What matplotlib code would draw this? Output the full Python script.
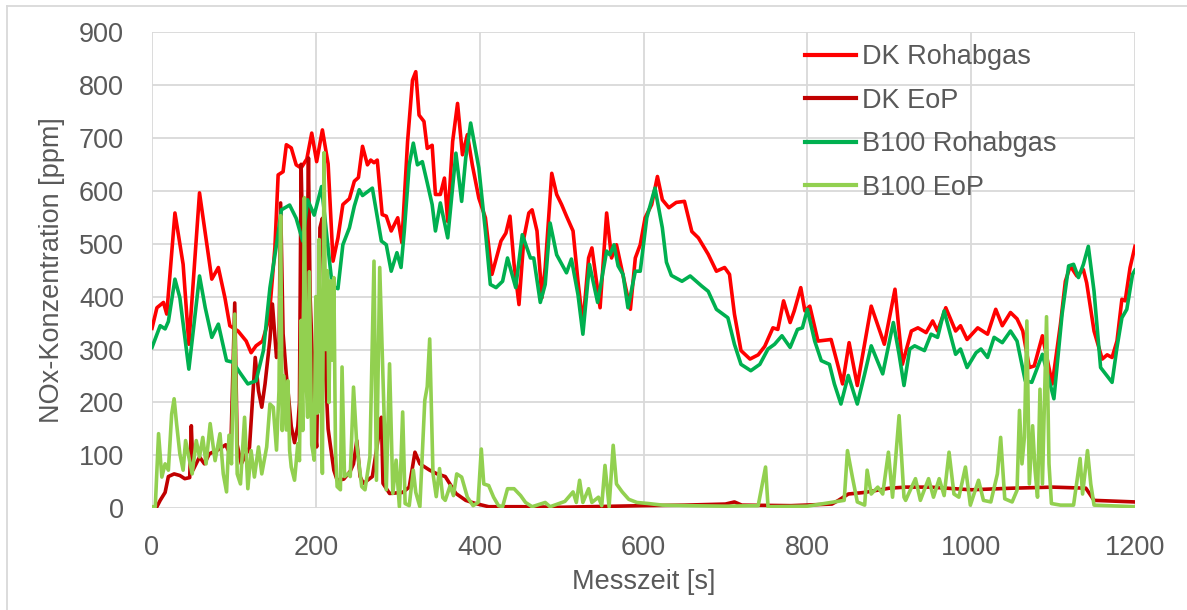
import matplotlib
matplotlib.use("Agg")
import matplotlib.pyplot as plt
from matplotlib.lines import Line2D

# ---------------- data ----------------
dk_roh_t = [0, 6, 14, 18, 28, 38, 45, 58, 73, 81, 89, 95, 105, 115, 121, 127, 135, 143, 150, 154, 160, 164,
            170, 176, 182, 189, 195, 201, 208, 215, 221, 227, 233, 241, 247, 252, 257, 263, 267, 271, 275, 281,
            286, 292, 300, 305, 312, 318, 322, 326, 332, 336, 342, 346, 352, 357, 361, 367, 373, 379, 385, 391,
            399, 407, 415, 426, 432, 437, 442, 448, 454, 460, 464, 470, 476, 480, 488, 494, 500, 506, 514, 520,
            526, 533, 537, 547, 555, 561, 567, 574, 584, 590, 596, 602, 610, 617, 623, 631, 640, 650, 659, 667,
            679, 689, 699, 705, 711, 719, 730, 740, 748, 758, 764, 771, 779, 784, 792, 797, 803, 813, 829, 837,
            843, 851, 861, 878, 894, 907, 916, 927, 935, 945, 953, 959, 969, 981, 987, 995, 1008, 1020, 1030,
            1038, 1048, 1056, 1063, 1071, 1077, 1087, 1099, 1109, 1115, 1121, 1129, 1137, 1141, 1150, 1160, 1166,
            1172, 1178, 1184, 1188, 1194, 1200]
dk_roh_v = [340, 379, 389, 367, 558, 461, 310, 596, 433, 455, 398, 345, 335, 316, 294, 307, 316, 360, 492, 630, 636, 687,
            681, 649, 643, 660, 709, 655, 715, 651, 467, 511, 574, 585, 618, 625, 684, 649, 658, 653, 658, 555,
            552, 524, 549, 502, 693, 809, 825, 743, 731, 680, 686, 593, 593, 624, 542, 693, 765, 668, 706, 649,
            586, 549, 442, 505, 520, 552, 461, 385, 511, 558, 564, 524, 398, 455, 633, 593, 574, 552, 524, 429,
            348, 473, 492, 379, 558, 473, 498, 448, 376, 473, 498, 549, 574, 627, 583, 568, 578, 580, 523, 511,
            480, 448, 455, 442, 367, 298, 282, 290, 306, 341, 338, 392, 351, 373, 417, 373, 382, 316, 319, 272,
            235, 313, 232, 382, 310, 414, 272, 335, 341, 332, 354, 335, 379, 335, 345, 319, 341, 329, 376,
            345, 370, 358, 335, 266, 269, 326, 235, 348, 429, 458, 439, 451, 426, 335, 282, 290,
            285, 316, 395, 392, 455, 495]

dk_eop_t = [0, 6, 10, 16, 20, 27, 34, 40, 46, 48, 50, 58, 64, 70, 80, 90, 96, 101, 104, 109, 119, 126, 130, 134,
            138, 144, 147, 152, 155, 157, 160, 164, 166, 170, 174, 178, 180, 182, 184, 186, 188, 191, 193, 196,
            199, 201, 203, 205, 208, 210, 212, 215, 218, 222, 226, 234, 242, 246, 250, 254, 258, 269, 277, 280,
            282, 290, 306, 314, 321, 327, 339, 348, 358, 371, 383, 395, 411, 450, 500, 600, 650, 700, 711, 720,
            780, 830, 838, 850, 870, 900, 920, 950, 1000, 1050, 1100, 1140, 1150, 1200]
dk_eop_v = [2, 3, 15, 30, 60, 65, 62, 56, 58, 156, 72, 97, 84, 103, 110, 120, 100, 388, 120, 84, 115, 285, 222, 191,
            235, 320, 386, 285, 300, 577, 330, 252, 222, 155, 124, 155, 200, 650, 500, 461, 300, 662, 400, 276,
            150, 116, 300, 530, 548, 400, 250, 150, 116, 72, 53, 55, 70, 84, 128, 60, 47, 60, 140, 172,
            47, 28, 30, 40, 106, 84, 72, 65, 60, 28, 15, 9, 3, 3, 2, 5, 6, 8, 12, 6,
            5, 8, 15, 27, 30, 38, 40, 40, 35, 38, 40, 38, 15, 12]

b100_roh_t = [0, 10, 16, 20, 28, 34, 45, 58, 65, 73, 81, 91, 99, 107, 117, 127, 136, 144, 152, 158, 168, 176, 184,
              190, 198, 207, 213, 220, 227, 233, 241, 247, 253, 257, 269, 280, 286, 292, 299, 304, 308, 314, 319,
              324, 330, 336, 342, 346, 352, 361, 371, 378, 383, 389, 399, 407, 413, 420, 428, 434, 444, 452, 462,
              466, 474, 480, 486, 494, 506, 512, 520, 526, 534, 544, 555, 559, 564, 569, 575, 581, 590, 596, 604,
              614, 623, 628, 634, 647, 657, 671, 679, 689, 703, 711, 719, 731, 742, 752, 760, 769, 779, 788, 794,
              800, 809, 817, 827, 833, 841, 850, 861, 870, 878, 892, 905, 912, 918, 925, 931, 943, 951, 959, 967,
              981, 987, 995, 1006, 1012, 1020, 1028, 1038, 1048, 1056, 1066, 1074, 1087, 1101, 1111, 1119, 1125,
              1131, 1137, 1143, 1150, 1158, 1164, 1172, 1178, 1184, 1190, 1197, 1200]
b100_roh_v = [304, 345, 339, 353, 433, 398, 263, 439, 379, 323, 348, 279, 276, 257, 235, 241, 298, 417, 498, 564, 573, 548, 505,
              583, 554, 608, 520, 420, 415, 498, 530, 571, 602, 591, 605, 505, 498, 448, 483, 455, 524, 649, 690,
              649, 655, 615, 574, 524, 577, 511, 671, 580, 662, 728, 643, 524, 423, 417, 429, 473, 417, 517, 473,
              473, 389, 423, 539, 479, 445, 471, 404, 329, 461, 389, 486, 479, 498, 458, 442, 379, 448, 448, 549,
              605, 530, 465, 440, 429, 439, 420, 410, 376, 360, 310, 272, 260, 272, 301, 310, 326, 304, 338, 341,
              376, 316, 279, 272, 235, 197, 251, 197, 254, 307, 254, 351, 291, 232, 301, 307, 298, 329, 323, 373,
              291, 301, 266, 294, 301, 285, 323, 313, 335, 316, 241, 238, 291, 207, 367, 458, 461,
              436, 461, 495, 410, 266, 254, 238, 304, 360, 376, 442, 450]

b100_eop_t = [0, 4, 8, 12, 16, 20, 24, 27, 30, 34, 38, 41, 45, 49, 54, 58, 62, 66, 71, 77, 83, 87, 91, 94, 97, 101,
              104, 108, 113, 117, 121, 125, 130, 134, 140, 144, 148, 152, 155, 157, 159, 161, 164, 166, 168, 170,
              174, 178, 180, 182, 184, 186, 188, 190, 192, 195, 198, 200, 202, 204, 206, 208, 210, 212, 214, 216,
              218, 220, 222, 224, 226, 230, 232, 235, 240, 242, 246, 250, 256, 260, 266, 271, 274, 278, 282, 286,
              290, 294, 298, 302, 306, 309, 314, 319, 322, 327, 333, 336, 339, 343, 347, 351, 355, 358, 364, 368,
              372, 378, 385, 392, 398, 402, 405, 411, 417, 423, 428, 434, 442, 450, 456, 464, 480, 486, 504, 514,
              518, 522, 526, 533, 537, 545, 549, 553, 558, 563, 567, 574, 582, 592, 606, 623, 650, 700, 740, 749,
              752, 800, 845, 849, 855, 861, 870, 873, 878, 886, 892, 899, 904, 912, 918, 920, 932, 938, 948, 954,
              961, 967, 973, 979, 985, 993, 999, 1009, 1015, 1024, 1032, 1036, 1041, 1050, 1056, 1059, 1062, 1065,
              1068, 1071, 1075, 1078, 1081, 1084, 1087, 1092, 1095, 1098, 1109, 1125, 1133, 1136, 1142, 1146,
              1150, 1200]
b100_eop_v = [3, 3, 141, 59, 84, 72, 178, 207, 160, 103, 72, 128, 97, 65, 128, 97, 134, 84, 160, 90, 141, 65, 31, 138, 84, 367,
              65, 46, 172, 37, 109, 59, 116, 65, 116, 197, 191, 110, 222, 553, 147, 250, 148, 241, 109, 78,
              53, 122, 90, 355, 147, 587, 250, 172, 447, 120, 91, 400, 180, 508, 250, 66, 672, 300, 449, 200,
              430, 280, 436, 109, 41, 35, 267, 60, 66, 60, 229, 120, 41, 35, 97, 467, 53, 455, 248, 35,
              273, 28, 91, 3, 182, 9, 5, 72, 30, 3, 204, 230, 320, 66, 22, 75, 20, 15, 43, 24,
              65, 59, 21, 5, 11, 112, 46, 43, 21, 5, 3, 37, 37, 24, 11, 3, 11, 3, 13, 31,
              11, 53, 11, 37, 11, 21, 5, 81, 3, 119, 46, 31, 17, 11, 9, 6, 5, 4, 5, 78,
              3, 4, 15, 109, 59, 12, 6, 72, 27, 40, 27, 106, 21, 175, 21, 15, 56, 15, 56, 21,
              56, 24, 106, 27, 21, 78, 6, 53, 15, 12, 65, 134, 18, 12, 34, 185, 84, 134,
              354, 46, 156, 72, 21, 225, 46, 362, 84, 9, 6, 6, 94, 27, 109, 46,
              6, 3]

labels = ["DK Rohabgas", "DK EoP", "B100 Rohabgas", "B100 EoP"]
colors = ["#FF0000", "#C00000", "#00B050", "#92D050"]
x_ticks = [0, 200, 400, 600, 800, 1000, 1200]
y_ticks = [0, 100, 200, 300, 400, 500, 600, 700, 800, 900]
x_label = "Messzeit [s]"
y_label = "NOx-Konzentration [ppm]"

# ---------------- plot ----------------
plt.rcParams['font.family'] = ['Liberation Sans', 'DejaVu Sans']
W, H = 1187, 610
fig = plt.figure(figsize=(W / 100, H / 100), dpi=100)
ax = fig.add_axes([152 / W, 1 - 508.3 / H, (1135 - 152) / W, (508.3 - 32) / H])

series = [(dk_roh_t, dk_roh_v), (dk_eop_t, dk_eop_v), (b100_roh_t, b100_roh_v), (b100_eop_t, b100_eop_v)]
for (t, v), lab, c in zip(series, labels, colors):
    ax.plot(t, v, color=c, lw=2.6, label=lab, solid_joinstyle='round', zorder=3)

ax.set_xlim(0, 1200)
ax.set_ylim(0, 900)
ax.set_xticks(x_ticks)
ax.set_yticks(y_ticks)
ax.grid(True, color="#D9D9D9", lw=1.3, zorder=0)
ax.set_axisbelow(True)
for s in ax.spines.values():
    s.set_visible(False)
ax.tick_params(axis='both', length=0, labelsize=19.5, labelcolor="#595959")
ax.tick_params(axis='y', pad=20)
ax.tick_params(axis='x', pad=19)
ax.set_xlabel(x_label, fontsize=19.5, color="#595959", labelpad=6)
ax.set_ylabel(y_label, fontsize=19.5, color="#595959", labelpad=10)

leg = ax.legend(loc='upper left', bbox_to_anchor=(805 / W, 1 - 44 / H), bbox_transform=fig.transFigure,
                frameon=False, fontsize=19.5, handlelength=1.9, handletextpad=0.2, labelspacing=0.65,
                borderpad=0, borderaxespad=0)
for txt in leg.get_texts():
    txt.set_color("#595959")
for ln in leg.get_lines():
    ln.set_linewidth(3)

# chart-area border (light gray)
fig.add_artist(Line2D([7 / W, 7 / W], [0, 1 - 6 / H], transform=fig.transFigure, color="#D9D9D9", lw=1.3))
fig.add_artist(Line2D([7 / W, 1], [1 - 6 / H, 1 - 6 / H], transform=fig.transFigure, color="#D9D9D9", lw=1.3))

fig.savefig("out.png", dpi=100)
